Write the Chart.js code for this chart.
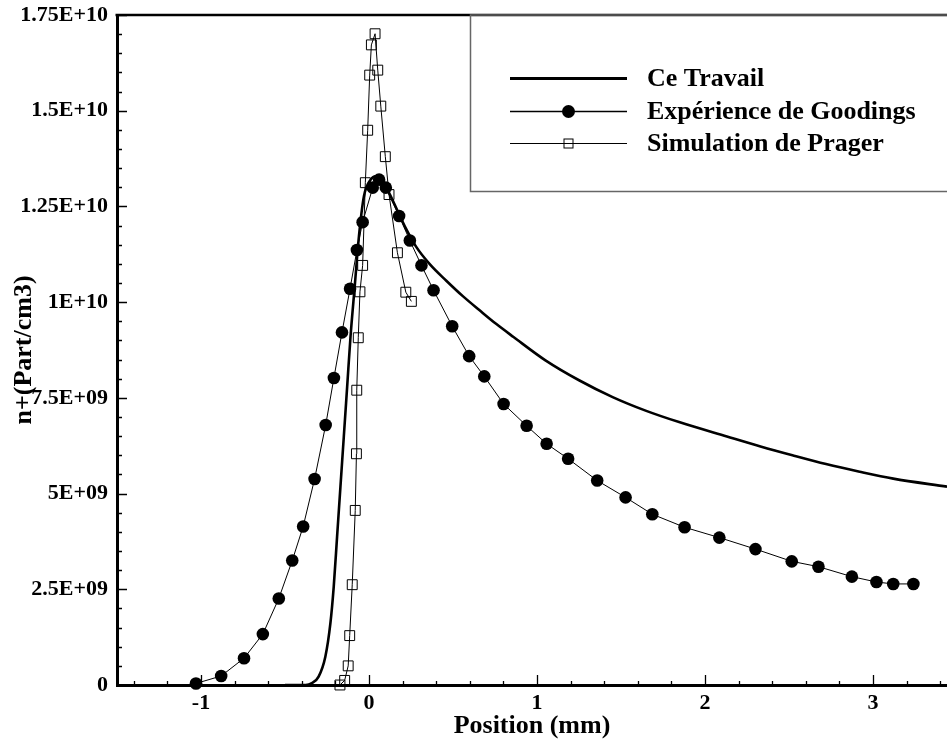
<!DOCTYPE html>
<html>
<head>
<meta charset="utf-8">
<script src="https://cdn.jsdelivr.net/npm/chart.js@4.4.0/dist/chart.umd.min.js"></script>
<style>
html,body{margin:0;padding:0;background:#fff;overflow:hidden}
#wrap{width:947px;height:739px;position:relative}
</style>
</head>
<body>
<div id="wrap"><canvas id="c" width="947" height="739"></canvas></div>
<script>
// ---- data ----
const seriesNames = ['Ce Travail', 'Expérience de Goodings', 'Simulation de Prager'];

const travailX = [-0.5, -0.40, -0.377, -0.34, -0.30, -0.26, -0.23, -0.21, -0.19, -0.17, -0.15, -0.13, -0.11, -0.085, -0.06, -0.03, 0.01, 0.04, 0.08, 0.12, 0.17, 0.22, 0.28, 0.36, 0.46, 0.56, 0.66, 0.76, 0.86, 1.05, 1.25, 1.45, 1.65, 1.85, 2.13, 2.33, 2.52, 2.72, 2.92, 3.12, 3.44];
const travailY = [0, 0, 0.0, 0.05e9, 0.22e9, 0.74e9, 1.61e9, 2.57e9, 3.88e9, 5.19e9, 6.49e9, 7.80e9, 9.11e9, 10.42e9, 11.72e9, 12.77e9, 13.2e9, 13.29e9, 13.15e9, 12.85e9, 12.38e9, 11.92e9, 11.45e9, 11.00e9, 10.56e9, 10.15e9, 9.78e9, 9.42e9, 9.09e9, 8.48e9, 7.96e9, 7.52e9, 7.16e9, 6.86e9, 6.49e9, 6.23e9, 6.00e9, 5.77e9, 5.57e9, 5.39e9, 5.18e9];

const goodingsX = [-1.03, -0.88, -0.744, -0.632, -0.537, -0.457, -0.392, -0.324, -0.258, -0.209, -0.161, -0.113, -0.072, -0.038, 0.022, 0.06, 0.10, 0.179, 0.243, 0.312, 0.384, 0.495, 0.596, 0.686, 0.801, 0.938, 1.057, 1.185, 1.358, 1.527, 1.686, 1.878, 2.085, 2.30, 2.516, 2.675, 2.874, 3.02, 3.12, 3.24];
const goodingsY = [0.04e9, 0.235e9, 0.70e9, 1.33e9, 2.26e9, 3.25e9, 4.14e9, 5.38e9, 6.79e9, 8.02e9, 9.21e9, 10.35e9, 11.36e9, 12.09e9, 12.99e9, 13.2e9, 12.99e9, 12.25e9, 11.61e9, 10.96e9, 10.31e9, 9.37e9, 8.59e9, 8.06e9, 7.34e9, 6.77e9, 6.30e9, 5.91e9, 5.34e9, 4.90e9, 4.46e9, 4.12e9, 3.85e9, 3.55e9, 3.23e9, 3.09e9, 2.83e9, 2.69e9, 2.64e9, 2.64e9];

const pragerX = [-0.173, -0.145, -0.124, -0.115, -0.100, -0.082, -0.075, -0.073, -0.064, -0.054, -0.038, -0.022, -0.008, 0.004, 0.014, 0.036, 0.052, 0.070, 0.097, 0.119, 0.169, 0.219, 0.252];
const pragerY = [0.0, 0.12e9, 0.50e9, 1.29e9, 2.62e9, 4.56e9, 6.04e9, 7.70e9, 9.07e9, 10.27e9, 10.96e9, 13.12e9, 14.49e9, 15.93e9, 16.72e9, 17.01e9, 16.06e9, 15.12e9, 13.80e9, 12.81e9, 11.29e9, 10.26e9, 10.02e9];

const xTickValues = [-1, 0, 1, 2, 3];
const xTickLabels = ['-1', '0', '1', '2', '3'];
const yTickValues = [0, 2.5e9, 5e9, 7.5e9, 1e10, 1.25e10, 1.5e10, 1.75e10];
const yTickLabels = ['0', '2.5E+09', '5E+09', '7.5E+09', '1E+10', '1.25E+10', '1.5E+10', '1.75E+10'];
const xTitle = 'Position (mm)';
const yTitle = 'n+(Part/cm3)';

// ---- build ----
const pts = (xs, ys) => xs.map((x, i) => ({x: x, y: ys[i]}));
const FONT = 'Liberation Serif';

const decor = {
  id: 'decor',
  afterDraw(chart) {
    const {ctx, chartArea: a, scales: {x, y}} = chart;
    ctx.save();
    ctx.strokeStyle = '#000';
    // top frame line
    ctx.lineWidth = 2.5;
    ctx.beginPath();
    ctx.moveTo(a.left - 1.5, a.top);
    ctx.lineTo(a.right + 2, a.top);
    ctx.stroke();
    // inward tick marks
    ctx.lineWidth = 1.3;
    ctx.beginPath();
    const i0 = Math.ceil(x.min / 0.2 - 1e-9), i1 = Math.floor(x.max / 0.2 + 1e-9);
    for (let i = i0; i <= i1; i++) {
      const v = i * 0.2;
      const major = Math.abs(v - Math.round(v)) < 1e-9;
      const px = Math.round(x.getPixelForValue(v)) + 0.5;
      ctx.moveTo(px, a.bottom);
      ctx.lineTo(px, a.bottom - (major ? 10 : 4));
    }
    for (let i = 0; i <= 35; i++) {
      const v = i * 5e8;
      const major = i % 5 === 0;
      const py = Math.round(y.getPixelForValue(v)) + 0.5;
      ctx.moveTo(a.left, py);
      ctx.lineTo(a.left + (major ? 10 : 5), py);
    }
    ctx.stroke();
    // legend box
    ctx.strokeStyle = '#666';
    ctx.lineWidth = 1.5;
    ctx.strokeRect(470.5, a.top, 600, 176.5);
    const rows = [78, 111, 143];
    const ds = chart.data.datasets;
    ctx.font = 'bold 26px "' + FONT + '"';
    ctx.textBaseline = 'middle';
    ctx.textAlign = 'left';
    ctx.fillStyle = '#000';
    ds.forEach((d, i) => {
      const ry = rows[i] + 0.5;
      ctx.strokeStyle = '#000';
      ctx.lineWidth = i === 0 ? 3 : (i === 1 ? 1.5 : 1);
      ctx.beginPath();
      ctx.moveTo(510, ry);
      ctx.lineTo(627, ry);
      ctx.stroke();
      if (i === 1) {
        ctx.beginPath();
        ctx.arc(568.5, ry, 6.5, 0, Math.PI * 2);
        ctx.fill();
      } else if (i === 2) {
        ctx.lineWidth = 1;
        ctx.strokeRect(564, ry - 4.5, 9, 9);
      }
      ctx.fillText(d.label, 647, rows[i] + 1);
    });
    ctx.restore();
  }
};

new Chart(document.getElementById('c'), {
  type: 'scatter',
  data: {
    datasets: [
      {
        label: seriesNames[0],
        data: pts(travailX, travailY),
        showLine: true,
        borderColor: '#000',
        borderWidth: 2.6,
        pointRadius: 0,
        cubicInterpolationMode: 'monotone',
        fill: false,
        clip: false
      },
      {
        label: seriesNames[1],
        data: pts(goodingsX, goodingsY),
        showLine: true,
        borderColor: '#000',
        borderWidth: 1,
        tension: 0,
        pointStyle: 'circle',
        pointRadius: 6.3,
        pointBackgroundColor: '#000',
        pointBorderColor: '#000',
        pointBorderWidth: 0,
        fill: false,
        clip: false
      },
      {
        label: seriesNames[2],
        data: pts(pragerX, pragerY),
        showLine: true,
        borderColor: '#000',
        borderWidth: 1,
        tension: 0,
        pointStyle: 'rect',
        pointRadius: 7,
        pointBackgroundColor: 'rgba(0,0,0,0)',
        pointBorderColor: '#000',
        pointBorderWidth: 1,
        fill: false,
        clip: false
      }
    ]
  },
  options: {
    responsive: false,
    animation: false,
    devicePixelRatio: 1,
    layout: {autoPadding: false, padding: {left: 0, right: 0, top: 15, bottom: 0}},
    plugins: {legend: {display: false}, tooltip: {enabled: false}},
    scales: {
      x: {
        type: 'linear',
        min: -1.5,
        max: 3.44,
        afterBuildTicks: s => { s.ticks = xTickValues.map(v => ({value: v})); },
        afterFit: s => { s.height = 54; s.paddingLeft = 0; s.paddingRight = 0; },
        ticks: {
          callback: (v, i) => xTickLabels[i],
          font: {family: FONT, size: 22, weight: 'bold'},
          color: '#000',
          padding: 5,
          maxRotation: 0
        },
        grid: {display: true, drawOnChartArea: false, drawTicks: false},
        border: {display: true, color: '#000', width: 3},
        title: {
          display: true,
          text: xTitle,
          font: {family: FONT, size: 26, weight: 'bold', lineHeight: 1},
          color: '#000',
          padding: {top: 0, bottom: 0}
        }
      },
      y: {
        type: 'linear',
        min: 0,
        max: 1.75e10,
        afterBuildTicks: s => { s.ticks = yTickValues.map(v => ({value: v})); },
        afterFit: s => { s.width = 117; s.paddingTop = 0; s.paddingBottom = 0; },
        ticks: {
          callback: (v, i) => yTickLabels[i],
          font: {family: FONT, size: 22, weight: 'bold'},
          color: '#000',
          padding: 9
        },
        grid: {display: true, drawOnChartArea: false, drawTicks: false},
        border: {display: true, color: '#000', width: 3},
        title: {
          display: true,
          text: yTitle,
          font: {family: FONT, size: 26, weight: 'bold', lineHeight: 1.2},
          color: '#000',
          padding: {top: 9, bottom: 0}
        }
      }
    }
  },
  plugins: [decor]
});
</script>
</body>
</html>
